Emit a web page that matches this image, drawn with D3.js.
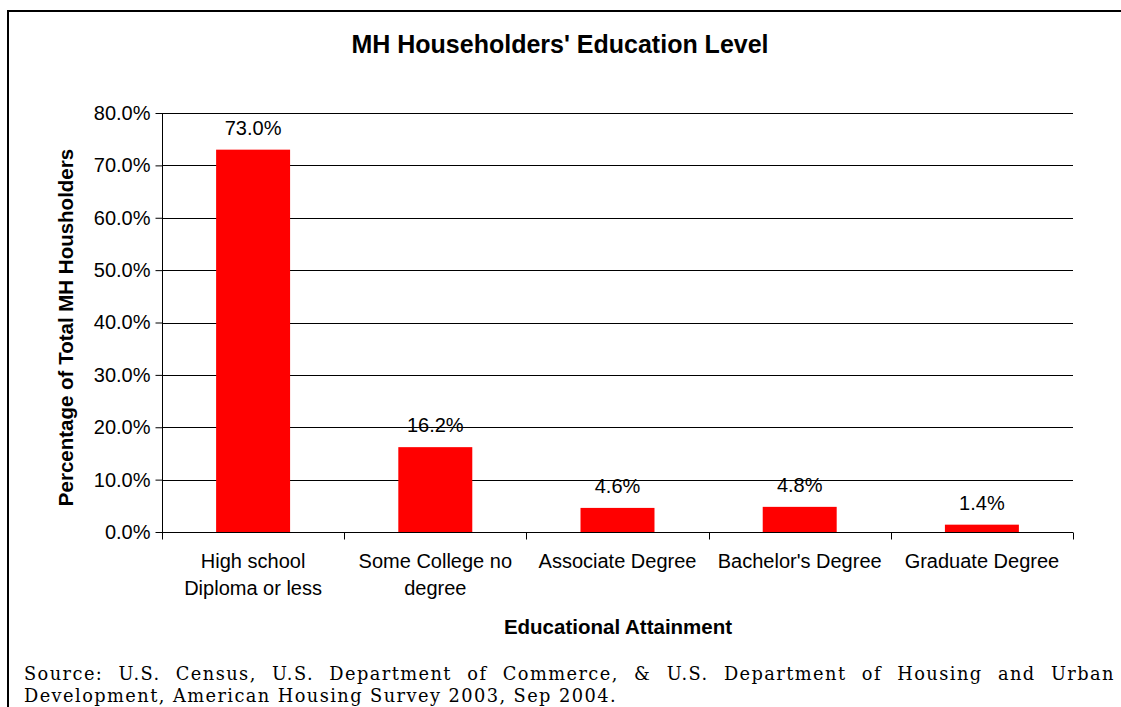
<!DOCTYPE html>
<html><head><meta charset="utf-8">
<script src="https://cdn.jsdelivr.net/npm/d3@7"></script>
<style>body{margin:0;background:#fff}svg{display:block}</style>
</head><body>
<svg id="c" width="1121" height="707"></svg>
<script>
const categories = [["High school","Diploma or less"],["Some College no","degree"],["Associate Degree"],["Bachelor's Degree"],["Graduate Degree"]];
const values = [73.0, 16.2, 4.6, 4.8, 1.4];
const yTicks = [0,10,20,30,40,50,60,70,80];
const title = "MH Householders' Education Level";
const yTitle = "Percentage of Total MH Housholders";
const xTitle = "Educational Attainment";
const source = ["Source: U.S. Census, U.S. Department of Commerce, & U.S. Department of Housing and Urban","Development, American Housing Survey 2003, Sep 2004."];

const SANS = "Liberation Sans, Arial, sans-serif";
const svg = d3.select("#c");
const L=162, R=1073, T=113, B=532;
const keys = categories.map((c,i)=>i);
const x = d3.scaleBand().domain(keys).range([L,R]).paddingInner(0.594).paddingOuter(0.297);
const xb = d3.scaleBand().domain(keys).range([L,R]);
const y = d3.scaleLinear().domain([0,80]).range([B,T]);

svg.append("rect").attr("x",8).attr("y",11).attr("width",1130).attr("height",720)
  .attr("fill","none").attr("stroke","#000").attr("stroke-width",2);

svg.append("text").attr("x",560).attr("y",53).attr("text-anchor","middle")
  .attr("font-family",SANS).attr("font-weight","bold").attr("font-size",25).text(title);

// gridlines
svg.append("g").selectAll("line").data(yTicks.filter(d=>d>0)).join("line")
  .attr("x1",L).attr("x2",R).attr("y1",d=>Math.round(y(d))+0.5).attr("y2",d=>Math.round(y(d))+0.5)
  .attr("stroke","#000").attr("stroke-width",1);

// bars
svg.append("g").selectAll("rect").data(values).join("rect")
  .attr("x",(d,i)=>x(i)).attr("width",x.bandwidth())
  .attr("y",d=>y(d)).attr("height",d=>B-y(d)).attr("fill","#ff0000");

// y axis
const ya = svg.append("g").attr("transform",`translate(${L+0.5},0)`)
  .call(d3.axisLeft(y).tickValues(yTicks).tickSize(7).tickPadding(5).tickFormat(d=>d.toFixed(1)+"%"));
ya.select(".domain").attr("d",`M0,${T}V${B}`);
ya.selectAll("text").attr("font-family",SANS).attr("font-size",20).attr("fill","#000");
ya.selectAll("line").attr("stroke","#000");

// x axis
const xa = svg.append("g").attr("transform",`translate(0,${B+0.5})`);
xa.append("line").attr("x1",L).attr("x2",R).attr("stroke","#000");
xa.selectAll("line.t").data(d3.range(6)).join("line").attr("class","t")
  .attr("x1",i=>Math.round(i<5?xb(i):R)+0.5).attr("x2",i=>Math.round(i<5?xb(i):R)+0.5)
  .attr("y1",0).attr("y2",7).attr("stroke","#000");
const cl = svg.append("g").selectAll("text").data(categories).join("text")
  .attr("x",(d,i)=>xb(i)+xb.bandwidth()/2).attr("y",568).attr("text-anchor","middle")
  .attr("font-family",SANS).attr("font-size",20);
cl.each(function(d){ const t=d3.select(this); d.forEach((s,j)=>t.append("tspan").attr("x",t.attr("x")).attr("dy",j?27:0).text(s)); });

// value labels
svg.append("g").selectAll("text").data(values).join("text")
  .attr("x",(d,i)=>x(i)+x.bandwidth()/2).attr("y",d=>y(d)-15).attr("text-anchor","middle")
  .attr("font-family",SANS).attr("font-size",20).text(d=>d.toFixed(1)+"%");

// axis titles
svg.append("text").attr("transform",`translate(73,${(T+B)/2+5}) rotate(-90)`).attr("text-anchor","middle")
  .attr("font-family",SANS).attr("font-weight","bold").attr("font-size",20.5).text(yTitle);
svg.append("text").attr("x",618).attr("y",634).attr("text-anchor","middle")
  .attr("font-family",SANS).attr("font-weight","bold").attr("font-size",20.5).text(xTitle);

// source
const SERIF = "DejaVu Serif, Liberation Serif, serif";
const fs = 17.8;
const s2 = svg.append("text").attr("x",24).attr("y",702)
  .attr("font-family",SERIF).attr("font-size",fs).text(source[1]);
const ls = (593 - s2.node().getComputedTextLength())/source[1].length;
s2.attr("letter-spacing",ls);
const s1 = svg.append("text").attr("x",24).attr("y",680)
  .attr("font-family",SERIF).attr("font-size",fs).attr("letter-spacing",ls).text(source[0]);
const w1 = s1.node().getComputedTextLength();
const gaps = source[0].split(" ").length-1;
s1.attr("word-spacing",(1091-w1)/gaps);
</script>
</body></html>
